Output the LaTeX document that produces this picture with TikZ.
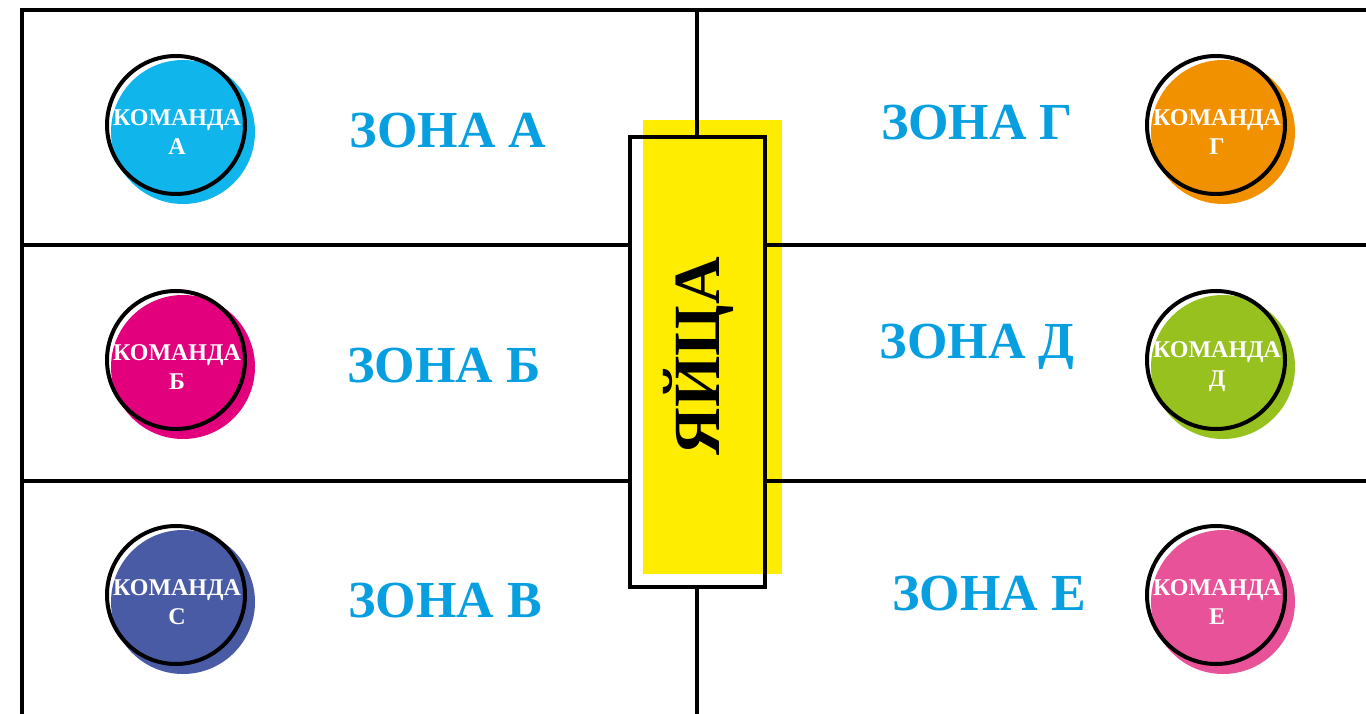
\documentclass[tikz,border=0pt]{standalone}
\usepackage{fontspec}
\setmainfont{Liberation Serif}
\usetikzlibrary{calc}
\definecolor{zonec}{HTML}{079FDF}
\definecolor{cA}{HTML}{10B5EC}
\definecolor{cB}{HTML}{E3007D}
\definecolor{cC}{HTML}{4A5BA5}
\definecolor{cG}{HTML}{F29100}
\definecolor{cD}{HTML}{96C11F}
\definecolor{cE}{HTML}{E85298}
\definecolor{yel}{HTML}{FFED00}
\tikzset{
  gridline/.style={line width=4.5pt, black},
  fillc/.style={circle, minimum size=144pt, inner sep=0pt},
  ringc/.style={circle, draw=black, line width=4pt, minimum size=138pt, inner sep=0pt},
  teamtxt/.style={text=white, align=center, font=\bfseries\fontsize{24}{29}\selectfont, inner sep=0pt},
  zonetxt/.style={text=zonec, font=\bfseries\fontsize{52}{60}\selectfont, inner sep=0pt},
}
\newcommand{\teamcirc}[5]{%
  \node[fillc, fill=#4] (#1bg) at ($(#2,#3)+(7,7)$) {};
  \node[ringc] (#1) at (#2,#3) {};
  \node[teamtxt] (#1l) at ($(#2,#3)+(1,7)$) {КОМАНДА\\#5};
}
\begin{document}
\begin{tikzpicture}[x=1pt,y=-1pt]
\useasboundingbox (0,0) rectangle (1366,714);
% coordinates of frame
\coordinate (tl) at (20,10);
\coordinate (tr) at (1366,10);
\coordinate (bl) at (22,714);
\coordinate (vt) at (697,10);
\coordinate (vb) at (697,714);
\coordinate (h1l) at (22,245);
\coordinate (h1r) at (1366,245);
\coordinate (h2l) at (22,481);
\coordinate (h2r) at (1366,481);
% central box background
\node[fill=white, minimum width=135pt, minimum height=450pt, inner sep=0pt] (boxbg) at (697.5,362) {};
\node[fill=yel, minimum width=139pt, minimum height=454pt, inner sep=0pt] (yellow) at (712.5,347) {};
% frame lines
\draw[gridline] (tl) -- (tr);
\draw[gridline] (22,8) -- (bl);
\node[draw=black, line width=4.5pt, minimum width=135pt, minimum height=450pt, inner sep=0pt] (box) at (697.5,362) {};
\draw[gridline] (vt) -- (vt |- box.north);
\draw[gridline] (vb) -- (vb |- box.south);
\draw[gridline] (h1l) -- (h1l -| box.west);
\draw[gridline] (h1r) -- (h1r -| box.east);
\draw[gridline] (h2l) -- (h2l -| box.west);
\draw[gridline] (h2r) -- (h2r -| box.east);
\node[rotate=90, anchor=base, font=\bfseries\fontsize{66}{70}\selectfont, inner sep=0pt] (eggs) at (719,356) {ЯЙЦА};
% teams
\teamcirc{tA}{176}{125}{cA}{А}
\teamcirc{tB}{176}{360}{cB}{Б}
\teamcirc{tC}{176}{595}{cC}{С}
\teamcirc{tG}{1216}{125}{cG}{Г}
\teamcirc{tD}{1216}{360}{cD}{Д}
\teamcirc{tE}{1216}{595}{cE}{Е}
% zones
\node[zonetxt] (zA) at (448,131) {ЗОНА А};
\node[zonetxt] (zB) at (444,366) {ЗОНА Б};
\node[zonetxt] (zC) at (445,601) {ЗОНА В};
\node[zonetxt] (zG) at (977,123) {ЗОНА Г};
\node[zonetxt] (zD) at (977,347) {ЗОНА Д};
\node[zonetxt] (zE) at (989,594) {ЗОНА Е};
\end{tikzpicture}
\end{document}
